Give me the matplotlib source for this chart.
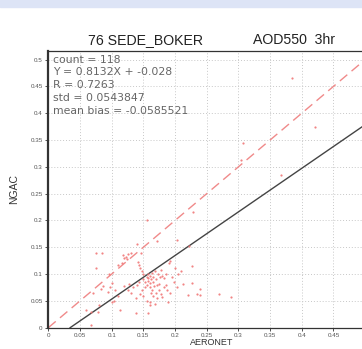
import matplotlib
matplotlib.use("Agg")
import matplotlib.pyplot as plt
import numpy as np
from matplotlib.patches import Rectangle

# AERONET (x) vs NGAC (y) AOD550
aeronet = [
    0.385, 0.421, 0.307, 0.304, 0.367, 0.228,
    0.155, 0.140, 0.171, 0.203, 0.222,
    0.076, 0.085, 0.076, 0.095, 0.118, 0.126, 0.122, 0.124, 0.120, 0.110,
    0.116, 0.147, 0.141, 0.143, 0.145, 0.148, 0.150,
    0.205, 0.210, 0.226, 0.226, 0.239, 0.235, 0.240, 0.220, 0.270, 0.289,
    0.189, 0.212, 0.195, 0.200, 0.190, 0.192, 0.185, 0.180, 0.183,
    0.160, 0.157, 0.139, 0.113, 0.100, 0.103, 0.080, 0.079, 0.068, 0.059,
    0.068, 0.071, 0.083, 0.087, 0.094, 0.100, 0.097, 0.105, 0.110, 0.120,
    0.125, 0.130, 0.133, 0.128, 0.138, 0.140, 0.143,
    0.150, 0.152, 0.155, 0.155, 0.157, 0.158, 0.158, 0.160, 0.160, 0.160,
    0.162, 0.162, 0.163, 0.165, 0.165, 0.166, 0.167, 0.168, 0.170, 0.170,
    0.172, 0.173, 0.175, 0.175, 0.178, 0.178, 0.180, 0.182, 0.168, 0.160,
    0.155, 0.150, 0.148, 0.145, 0.152, 0.163, 0.171, 0.176, 0.185, 0.188,
    0.192, 0.198, 0.203, 0.130,
]
ngac = [
    0.465, 0.374, 0.344, 0.313, 0.285, 0.215,
    0.200, 0.156, 0.162, 0.164, 0.152,
    0.140, 0.139, 0.111, 0.101, 0.136, 0.137, 0.132, 0.128, 0.130, 0.117,
    0.120, 0.140, 0.122, 0.117, 0.112, 0.105, 0.100,
    0.101, 0.105, 0.115, 0.084, 0.073, 0.062, 0.061, 0.061, 0.063, 0.058,
    0.047, 0.082, 0.095, 0.112, 0.120, 0.125, 0.100, 0.097, 0.092,
    0.043, 0.027, 0.028, 0.033, 0.048, 0.050, 0.042, 0.030, 0.030, 0.033,
    0.005, 0.064, 0.072, 0.078, 0.067, 0.084, 0.075, 0.070, 0.060, 0.078,
    0.070, 0.065, 0.075, 0.082, 0.055, 0.080, 0.085,
    0.090, 0.085, 0.095, 0.080, 0.088, 0.092, 0.100, 0.083, 0.097, 0.075,
    0.090, 0.065, 0.102, 0.060, 0.095, 0.085, 0.078, 0.105, 0.065, 0.090,
    0.055, 0.100, 0.070, 0.082, 0.062, 0.108, 0.058, 0.075, 0.045, 0.047,
    0.050, 0.060, 0.070, 0.062, 0.075, 0.070, 0.080, 0.095, 0.080, 0.070,
    0.065, 0.085, 0.075, 0.140,
]

stats_lines = [
    "count = 118",
    "Y = 0.8132X + -0.028",
    "R = 0.7263",
    "std = 0.0543847",
    "mean bias = -0.0585521",
]
fit_slope = 0.8132
fit_intercept = -0.028
yticks = [0, 0.05, 0.1, 0.15, 0.2, 0.25, 0.3, 0.35, 0.4, 0.45, 0.5]
xticks = [0, 0.05, 0.1, 0.15, 0.2, 0.25, 0.3, 0.35, 0.4, 0.45]

plt.rcParams["font.family"] = ["Liberation Sans", "DejaVu Sans"]

fig = plt.figure(figsize=(3.62, 3.49), dpi=100)
fig.patches.append(Rectangle((0, 1 - 7 / 349), 1, 7 / 349, transform=fig.transFigure,
                             color="#dde4f6", zorder=0))

lim = 0.516
ax = fig.add_axes([48.3 / 362, 21.3 / 349, 327 / 362, 276.7 / 349])
ax.set_xlim(0, lim)
ax.set_ylim(0, lim)

ax.set_xticks(xticks)
ax.set_yticks(yticks)
ax.set_xticklabels([f"{t:g}" for t in xticks])
ax.set_yticklabels([f"{t:g}" for t in yticks])
ax.tick_params(labelsize=4.5, labelcolor="#555555", length=2.5, width=0.6,
               color="#333333", pad=1.5)
ax.grid(True, linestyle=(0, (1, 2)), color="#c8c8c8", linewidth=0.7)

for side in ["top", "bottom", "right"]:
    ax.spines[side].set_color("#333333")
    ax.spines[side].set_linewidth(0.9)
ax.spines["left"].set_color("#333333")
ax.spines["left"].set_linewidth(1.6)

xs = np.array([0, lim])
ax.plot(xs, xs, color="#f08a8a", linewidth=1.0, dashes=(7, 4))
x0 = -fit_intercept / fit_slope
xf = np.array([x0, lim])
ax.plot(xf, fit_slope * xf + fit_intercept, color="#444444", linewidth=1.0)

ax.plot(aeronet, ngac, linestyle="none", marker="o", markersize=1.6,
        color="#f07878", markeredgewidth=0, alpha=0.9)

line_y = [0.500, 0.477, 0.453, 0.428, 0.404]
for txt, y in zip(stats_lines, line_y):
    ax.text(0.008, y, txt, fontsize=7.8, color="#666666", va="center", ha="left",
            family="DejaVu Sans")

ax.set_ylabel("NGAC", fontsize=7.5, color="#333333", labelpad=8)
ax.set_xlabel("AERONET", fontsize=6.5, color="#333333")
ax.xaxis.set_label_coords(0.5, -0.038)

fig.text(146 / 362, 1 - 40 / 349, "76 SEDE_BOKER", fontsize=10.2, color="#222222",
         ha="center", va="center")
fig.text(294 / 362, 1 - 40 / 349, "AOD550  3hr", fontsize=10.2, color="#222222",
         ha="center", va="center")

fig.savefig("out.png", dpi=100)
